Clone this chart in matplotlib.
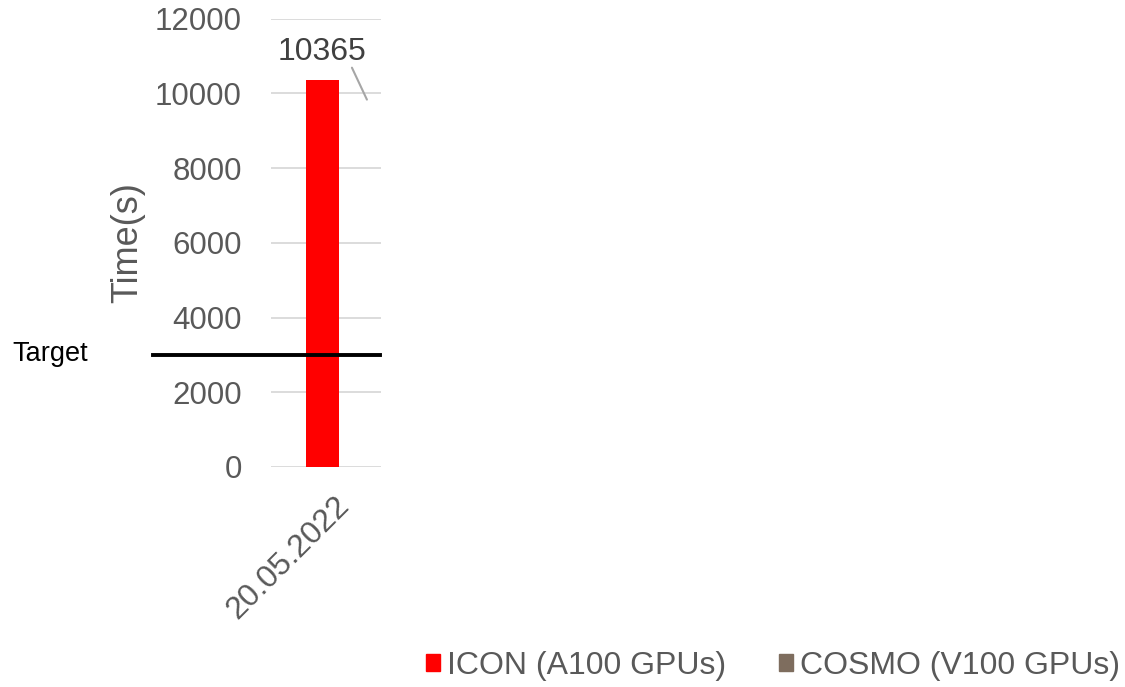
"""
Run time of the ICON model vs. target, Excel-style bar chart.
"""

import numpy as np
import matplotlib
matplotlib.use("Agg")
import matplotlib.pyplot as plt
import matplotlib.patches as patches
from matplotlib.transforms import ScaledTranslation

# data
dates = ["20.05.2022"]
icon_times = [10365]
cosmo_times = [np.nan]  # no COSMO run shown
target_time = 3000
series_names = ["ICON (A100 GPUs)", "COSMO (V100 GPUs)"]
y_ticks = [0, 2000, 4000, 6000, 8000, 10000, 12000]

ICON_RED = "#ff0000"
COSMO_BROWN = "#7e6d5e"
TEXT_GRAY = "#595959"
GRID_GRAY = "#d9d9d9"

plt.rcParams["font.family"] = ["Liberation Sans", "DejaVu Sans"]

W, H = 1125, 687
fig = plt.figure(figsize=(W / 100, H / 100), dpi=100)

# axes box in pixels: x 271..381, y 18.5..467
ax = fig.add_axes([271 / W, (H - 467) / H, 110 / W, (467 - 18.5) / H])

x = np.arange(len(dates))
ax.bar(x, icon_times, width=0.3, color=ICON_RED, zorder=2)
ax.bar(x + 0.3, cosmo_times, width=0.3, color=COSMO_BROWN, zorder=2)

ax.set_xlim(-0.468, 0.532)
ax.set_ylim(0, 12000)
ax.set_yticks(y_ticks)
ax.set_yticklabels([str(v) for v in y_ticks])
ax.yaxis.grid(True, color=GRID_GRAY, linewidth=1.3, zorder=0)
ax.set_axisbelow(True)
for s in ax.spines.values():
    s.set_visible(False)
ax.tick_params(axis="y", length=0, pad=21, labelsize=22.5, labelcolor=TEXT_GRAY)
ax.tick_params(axis="x", length=0, pad=0, labelsize=23, labelcolor=TEXT_GRAY)

ax.set_xticks(x)
ax.set_xticklabels(dates, rotation=45, ha="right", va="top", rotation_mode="anchor")
for lab in ax.get_xticklabels():
    lab.set_transform(lab.get_transform() + ScaledTranslation(0.12, -0.24, fig.dpi_scale_trans))

ax.set_ylabel("Time(s)", fontsize=26, color=TEXT_GRAY)
ax.yaxis.set_label_coords(-1.14, 0.5)

# data label with a leader line off to the right
for xi, v in zip(x, icon_times):
    ax.annotate(str(v), xy=(xi, v), xytext=(0, 20), textcoords="offset points",
                ha="center", va="center", fontsize=23, color="#404040")
    end = ax.transData + ScaledTranslation(32 / 72, -14.4 / 72, fig.dpi_scale_trans)
    ax.annotate("", xy=(xi, v), xycoords=end, xytext=(-10.8, 23),
                textcoords="offset points",
                arrowprops=dict(arrowstyle="-", color="#a6a6a6", lw=1.5,
                                shrinkA=0, shrinkB=0))

# target line reaching out left of the plot
ax.axhline(target_time, xmin=-1.073, xmax=0.99, color="black", linewidth=2.8,
           clip_on=False, zorder=3)
fig.text(12 / W, 1 - 354 / H, "Target", fontsize=19.5, color="black",
         ha="left", va="center")

handles = [patches.Patch(color=ICON_RED), patches.Patch(color=COSMO_BROWN)]
fig.legend(handles, series_names, loc="center left",
           bbox_to_anchor=(426 / W, 1 - 666 / H), ncol=2, frameon=False,
           fontsize=23, labelcolor=TEXT_GRAY, handlelength=0.44, handleheight=0.44,
           handletextpad=0.22, columnspacing=1.65, borderpad=0, borderaxespad=0)

fig.savefig("out.png", dpi=100)
